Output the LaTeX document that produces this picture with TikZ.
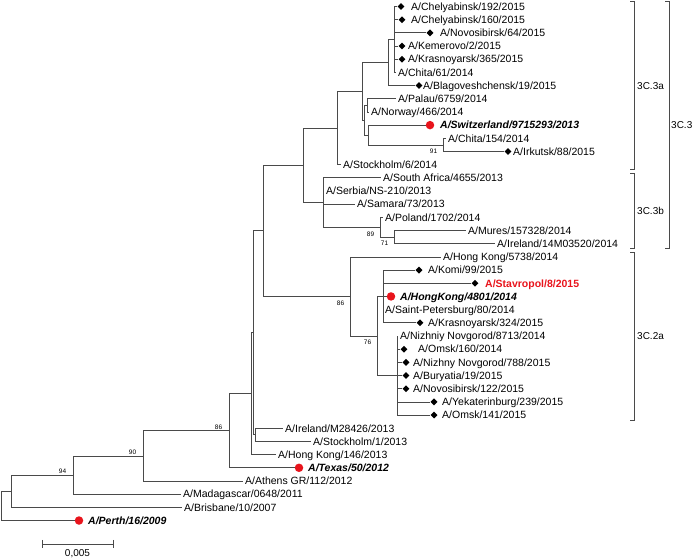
\documentclass[tikz,border=0pt]{standalone}
\usepackage{fontspec}
\setmainfont{Liberation Sans}
\usetikzlibrary{shapes.geometric}
\definecolor{DotRed}{HTML}{E8141C}
\definecolor{Branch}{HTML}{4A4A4A}
\tikzset{treeline/.style={draw=Branch,line width=.75pt},taxon/.style={anchor=west,inner xsep=2.5pt,inner ysep=0pt,text height=7.5pt,text depth=0pt,font=\fontsize{10.5}{12}\selectfont},vaccine/.style={taxon,font=\fontsize{10.5}{12}\selectfont\bfseries\itshape},isolate/.style={taxon,text=DotRed,font=\fontsize{10.5}{12}\selectfont\bfseries},gem/.style={diamond,fill=black,minimum size=7pt,inner sep=0pt},reddot/.style={circle,fill=DotRed,minimum size=8.5pt,inner sep=0pt},boot/.style={font=\fontsize{6.5}{7}\selectfont,inner sep=0pt},bootlo/.style={boot,xshift=-9.5pt,yshift=-6.5pt},bootup/.style={boot,xshift=-10.5pt,yshift=3.7pt},clade/.style={draw=Branch,line width=.75pt},cladelab/.style={anchor=west,inner sep=0pt,font=\fontsize{10}{12}\selectfont}}

\begin{document}
\begin{tikzpicture}[x=1pt,y=-13.18pt]
  \useasboundingbox (0,.507) rectangle (693,42.84);
  % internal nodes, x in pt, y in rows
  \coordinate (A1) at (394,3.5);\coordinate (Na) at (388,5.25);\coordinate (PN) at (367,8.5);\coordinate (C91) at (443,11.5);
  \coordinate (SC) at (368,10.75);\coordinate (P2) at (364,9.625);\coordinate (P1) at (362,7.44);\coordinate (P0) at (337,10.22);
  \coordinate (M71) at (394,18.5);\coordinate (P89) at (380,17.75);\coordinate (B3b) at (323,15.875);\coordinate (Q) at (303,13.05);
  \coordinate (Y) at (383,23);\coordinate (Z) at (397,29);\coordinate (X76) at (377,26);\coordinate (W86) at (350,23);
  \coordinate (R) at (263,18.02);\coordinate (V) at (255,33.5);\coordinate (U) at (253,25.76);\coordinate (T) at (251,30.38);
  \coordinate (N86) at (229,33.19);\coordinate (N90) at (143,35.1);\coordinate (N94) at (73,36.55);\coordinate (N1) at (11,37.77);\coordinate (Rt) at (1,38.89);
  % 3C.3a
  \node[gem](m1)at(401,1){};\node[taxon](t1)at(408.5,1){A/Chelyabinsk/192/2015};
  \node[gem](m2)at(402,2){};\node[taxon](t2)at(408.5,2){A/Chelyabinsk/160/2015};
  \node[gem](m3)at(430,3){};\node[taxon](t3)at(437.5,3){A/Novosibirsk/64/2015};
  \node[gem](m4)at(402,4){};\node[taxon](t4)at(405.5,4){A/Kemerovo/2/2015};
  \node[gem](m5)at(402,5){};\node[taxon](t5)at(405.5,5){A/Krasnoyarsk/365/2015};
  \node[taxon](t6)at(395.5,6){A/Chita/61/2014};
  \node[gem](m7)at(419,7){};\node[taxon](t7)at(420.5,7){A/Blagoveshchensk/19/2015};
  \node[taxon](t8)at(395.5,8){A/Palau/6759/2014};
  \node[taxon](t9)at(368.5,9){A/Norway/466/2014};
  \node[reddot](m10)at(430,10){};\node[vaccine](t10)at(437.5,10){A/Switzerland/9715293/2013};
  \node[taxon](t11)at(445.5,11){A/Chita/154/2014};
  \node[gem](m12)at(508,12){};\node[taxon](t12)at(510.5,12){A/Irkutsk/88/2015};
  \node[taxon](t13)at(340.5,13){A/Stockholm/6/2014};
  % 3C.3b
  \node[taxon](t14)at(380.5,14){A/South Africa/4655/2013};
  \node[taxon](t15)at(323.5,15){A/Serbia/NS-210/2013};
  \node[taxon](t16)at(354.5,16){A/Samara/73/2013};
  \node[taxon](t17)at(382.5,17){A/Poland/1702/2014};
  \node[taxon](t18)at(465.5,18){A/Mures/157328/2014};
  \node[taxon](t19)at(494.5,19){A/Ireland/14M03520/2014};
  % 3C.2a
  \node[taxon](t20)at(440.5,20){A/Hong Kong/5738/2014};
  \node[gem](m21)at(419,21){};\node[taxon](t21)at(425.5,21){A/Komi/99/2015};
  \node[gem](m22)at(475,22){};\node[isolate](t22)at(482.5,22){A/Stavropol/8/2015};
  \node[reddot](m23)at(391,23){};\node[vaccine](t23)at(397.5,23){A/HongKong/4801/2014};
  \node[taxon](t24)at(382.5,24){A/Saint-Petersburg/80/2014};
  \node[gem](m25)at(420,25){};\node[taxon](t25)at(425.5,25){A/Krasnoyarsk/324/2015};
  \node[taxon](t26)at(397.5,26){A/Nizhniy Novgorod/8713/2014};
  \node[gem](m27)at(404,27){};\node[taxon](t27)at(415.5,27){A/Omsk/160/2014};
  \node[gem](m28)at(406,28){};\node[taxon](t28)at(410.5,28){A/Nizhny Novgorod/788/2015};
  \node[gem](m29)at(406,29){};\node[taxon](t29)at(410.5,29){A/Buryatia/19/2015};
  \node[gem](m30)at(406,30){};\node[taxon](t30)at(410.5,30){A/Novosibirsk/122/2015};
  \node[gem](m31)at(434,31){};\node[taxon](t31)at(439.5,31){A/Yekaterinburg/239/2015};
  \node[gem](m32)at(434,32){};\node[taxon](t32)at(439.5,32){A/Omsk/141/2015};
  % older strains
  \node[taxon](t33)at(282.5,33){A/Ireland/M28426/2013};
  \node[taxon](t34)at(310.5,34){A/Stockholm/1/2013};
  \node[taxon](t35)at(275.5,35){A/Hong Kong/146/2013};
  \node[reddot](m36)at(299,36){};\node[vaccine](t36)at(305.5,36){A/Texas/50/2012};
  \node[taxon](t37)at(242.5,37){A/Athens GR/112/2012};
  \node[taxon](t38)at(180.5,38){A/Madagascar/0648/2011};
  \node[taxon](t39)at(181.5,39){A/Brisbane/10/2007};
  \node[reddot](m40)at(79,40){};\node[vaccine](t40)at(85.5,40){A/Perth/16/2009};
  % branches
  \foreach \p/\c in {Rt/N1,Rt/m40.west,N1/N94,N1/t39.west,N94/N90,N94/t38.west,N90/N86,N90/t37.west,N86/T,N86/m36.west,T/U,T/t35.west,U/R,U/V,V/t33.west,V/t34.west,R/Q,R/W86,W86/t20.west,W86/X76,X76/Y,X76/Z,Y/m21.west,Y/m22.west,Y/m23.west,Y/t24.west,Y/m25.west,Z/t26.west,Z/m27.west,Z/m28.west,Z/m29.west,Z/m30.west,Z/m31.west,Z/m32.west,Q/P0,Q/B3b,B3b/t14.west,B3b/t15.west,B3b/t16.west,B3b/P89,P89/t17.west,P89/M71,M71/t18.west,M71/t19.west,P0/P1,P0/t13.west,P1/Na,P1/P2,P2/PN,P2/SC,PN/t8.west,PN/t9.west,SC/m10.west,SC/C91,C91/t11.west,C91/m12.west,Na/A1,Na/m7.west,A1/m1.west,A1/m2.west,A1/m3.west,A1/m4.west,A1/m5.west,A1/t6.west}
    \draw[treeline] (\p) |- (\c);
  % bootstrap values
  \node[bootlo](s91)at(C91){91};\node[bootlo](s89)at(P89){89};\node[bootlo](s71)at(M71){71};\node[bootlo](s76)at(X76){76};\node[bootlo](s86a)at(W86){86};
  \node[bootup](s86b)at(N86){86};\node[bootup](s90)at(N90){90};\node[bootup](s94)at(N94){94};
  % clade brackets
  \draw[clade] (630,.63) -| (634,13.37) -- (630,13.37);\node[cladelab](c3a)at(637,7){3C.3a};
  \draw[clade] (630,13.63) -| (634,19.37) -- (630,19.37);\node[cladelab](c3b)at(637,16.5){3C.3b};
  \draw[clade] (630,19.63) -| (634,32.37) -- (630,32.37);\node[cladelab](c2a)at(637,26){3C.2a};
  \draw[clade] (665,.63) -| (669,19.37) -- (665,19.37);\node[cladelab](c3)at(671,10){3C.3};
  % scale bar
  \coordinate (sb0) at (42,41.78);\coordinate (sb1) at (113,41.78);
  \draw[treeline] (sb0) -- (sb1);\foreach \e in {sb0,sb1}\draw[treeline] ([yshift=4pt]\e) -- ([yshift=-4pt]\e);
  \node[cladelab,anchor=center](sbl)at(77.5,42.54){0,005};
\end{tikzpicture}
\end{document}
